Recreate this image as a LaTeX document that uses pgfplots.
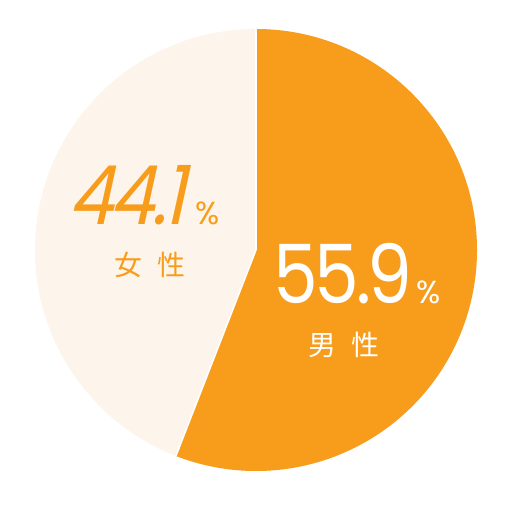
\documentclass[border=0pt]{standalone}
\usepackage{pgfplots}
\pgfplotsset{compat=1.18}
\usepackage{fontspec}
\newfontfamily\numfont{Poppins}[FakeStretch=0.87, LetterSpace=-4]
\newfontfamily\pctfont{Poppins}
\newfontfamily\cjk{Noto Sans CJK JP}
\definecolor{pieorange}{HTML}{F89C1C}
\definecolor{piecream}{HTML}{FDF5EB}

% shares in percent
\def\male{55.9}
\def\female{44.1}

\begin{document}
\begin{tikzpicture}
\begin{axis}[
  scale only axis, width=510bp, height=510bp,
  xmin=0, xmax=510, ymin=0, ymax=510, y dir=reverse,
  hide axis, clip=false,
]
\path (axis cs:0,0) rectangle (axis cs:510,510);
% cream slice = full disc first, orange slice on top
\fill[piecream] (axis cs:256,250) circle[radius=221bp];
\fill[pieorange] (axis cs:256,250) -- (axis cs:256,29)
  arc[start angle=90, end angle={90-3.6*\male}, radius=221bp] -- cycle;
\draw[white, line width=1.5bp] (axis cs:256,250) -- (axis cs:256,29);
\draw[white, line width=1.5bp] (axis cs:256,250) -- ++({90-3.6*\male}:221bp);

\node[anchor=base west, inner sep=0, text=pieorange] at (axis cs:68,224)
  {{\numfont\fontsize{82}{82}\selectfont\addfontfeature{FakeSlant=0.22}\female}\hspace{10bp}{\pctfont\fontsize{32}{32}\selectfont\%}};
\node[anchor=base, inner sep=0, text=pieorange, font=\cjk\fontsize{28}{28}\selectfont]
  at (axis cs:150,275) {女\hspace{16bp}性};

\node[anchor=base west, inner sep=0, text=white] at (axis cs:273,303)
  {{\numfont\fontsize{82}{82}\selectfont\male}\hspace{4bp}{\pctfont\fontsize{32}{32}\selectfont\%}};
\node[anchor=base, inner sep=0, text=white, font=\cjk\fontsize{28}{28}\selectfont]
  at (axis cs:344,355) {男\hspace{16bp}性};
\end{axis}
\end{tikzpicture}
\end{document}
